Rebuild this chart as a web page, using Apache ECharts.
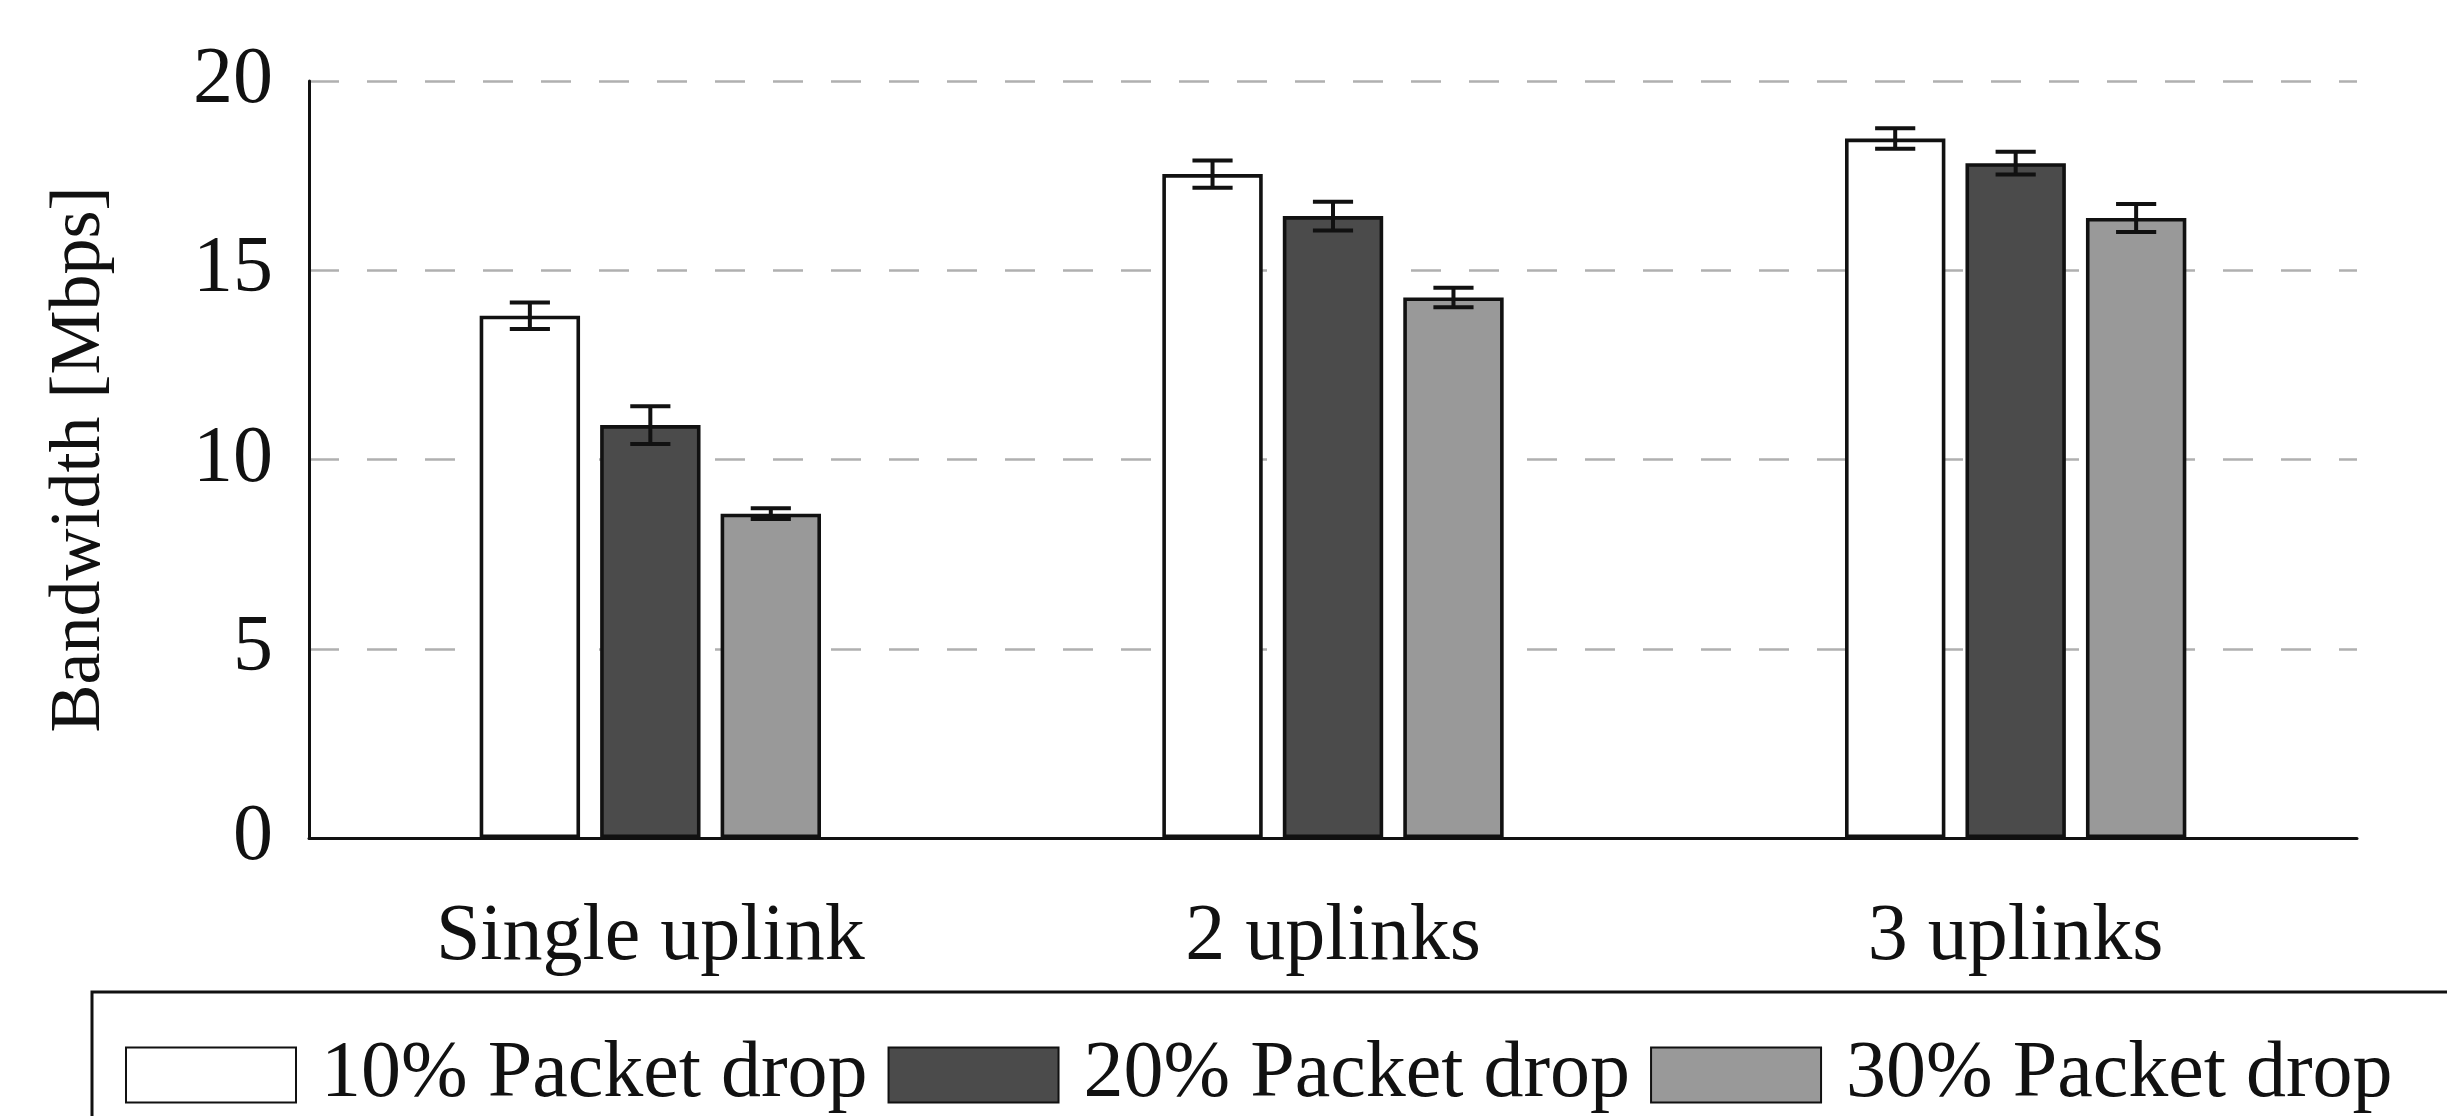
<!DOCTYPE html>
<html>
<head>
<meta charset="utf-8">
<script src="https://cdn.jsdelivr.net/npm/echarts@6/dist/echarts.min.js"></script>
<style>html,body{margin:0;padding:0;background:#fff;}#c{width:2447px;height:1116px;}</style>
</head>
<body>
<div id="c"></div>
<script>
const categories = ['Single uplink', '2 uplinks', '3 uplinks'];
const seriesNames = ['10% Packet drop', '20% Packet drop', '30% Packet drop'];
const drop10 = [13.80, 17.54, 18.48];
const err10 = [0.35, 0.36, 0.27];
const drop20 = [10.91, 16.43, 17.83];
const err20 = [0.50, 0.38, 0.30];
const drop30 = [8.57, 14.28, 16.38];
const err30 = [0.14, 0.26, 0.37];
const yTicks = [0, 5, 10, 15, 20];

const values = [drop10, drop20, drop30];
const errors = [err10, err20, err30];
const colors = ['#ffffff', '#4b4b4b', '#999999'];
const FONT = 'Liberation Serif';
const BAR_GAP = 0.2, CAT_GAP = 0.5;

const chart = echarts.init(document.getElementById('c'), null, {renderer: 'canvas'});

const barSeries = values.map((vals, k) => ({
  name: seriesNames[k],
  type: 'bar',
  data: vals,
  barGap: (BAR_GAP * 100) + '%',
  barCategoryGap: (CAT_GAP * 100) + '%',
  itemStyle: {color: colors[k], borderColor: '#111', borderWidth: 3.6},
  emphasis: {disabled: true},
  z: 2
}));

const errSeries = values.map((vals, k) => ({
  name: 'err' + k,
  type: 'custom',
  data: vals.map((v, i) => [i, v - errors[k][i], v + errors[k][i]]),
  encode: {x: 0, y: [1, 2]},
  z: 5,
  renderItem: function (params, api) {
    const xi = api.value(0);
    const lo = api.coord([xi, api.value(1)]);
    const hi = api.coord([xi, api.value(2)]);
    const band = api.size([1, 0])[0];
    const w = band * (1 - CAT_GAP) / (3 + 2 * BAR_GAP);
    const cx = lo[0] + (k - 1) * w * (1 + BAR_GAP);
    const half = w * 0.2;
    const st = {stroke: '#111', lineWidth: 4};
    return {
      type: 'group',
      children: [
        {type: 'line', shape: {x1: cx, y1: lo[1], x2: cx, y2: hi[1]}, style: st},
        {type: 'line', shape: {x1: cx - half, y1: lo[1], x2: cx + half, y2: lo[1]}, style: st},
        {type: 'line', shape: {x1: cx - half, y1: hi[1], x2: cx + half, y2: hi[1]}, style: st}
      ]
    };
  }
}));

chart.setOption({
  animation: false,
  backgroundColor: '#ffffff',
  grid: {left: 309, right: 90, top: 81, bottom: 278, containLabel: false},
  xAxis: {
    type: 'category',
    data: categories,
    axisLine: {show: true, lineStyle: {color: '#111', width: 3}},
    axisTick: {show: false},
    axisLabel: {fontFamily: FONT, fontSize: 80, color: '#111', margin: 60}
  },
  yAxis: {
    type: 'value',
    min: yTicks[0],
    max: yTicks[yTicks.length - 1],
    interval: 5,
    name: 'Bandwidth [Mbps]',
    nameLocation: 'middle',
    nameGap: 193,
    nameTextStyle: {fontFamily: FONT, fontSize: 72, color: '#111'},
    axisLine: {show: true, lineStyle: {color: '#111', width: 3}},
    axisTick: {show: false},
    axisLabel: {fontFamily: FONT, fontSize: 80, color: '#111', margin: 36},
    splitLine: {show: true, lineStyle: {color: '#b0b0b0', width: 2.5, type: [30, 28]}}
  },
  legend: {
    data: seriesNames,
    left: 120,
    top: 1030,
    orient: 'horizontal',
    icon: 'rect',
    itemWidth: 170,
    itemHeight: 55,
    itemGap: 20,
    selectedMode: false,
    textStyle: {fontFamily: FONT, fontSize: 80, color: '#111', lineHeight: 80, padding: [0, 0, 0, 20]}
  },
  graphic: [{
    type: 'rect',
    shape: {x: 92, y: 992, width: 2450, height: 200},
    style: {fill: 'none', stroke: '#111', lineWidth: 3},
    z: 10
  }],
  series: barSeries.concat(errSeries)
});
</script>
</body>
</html>
